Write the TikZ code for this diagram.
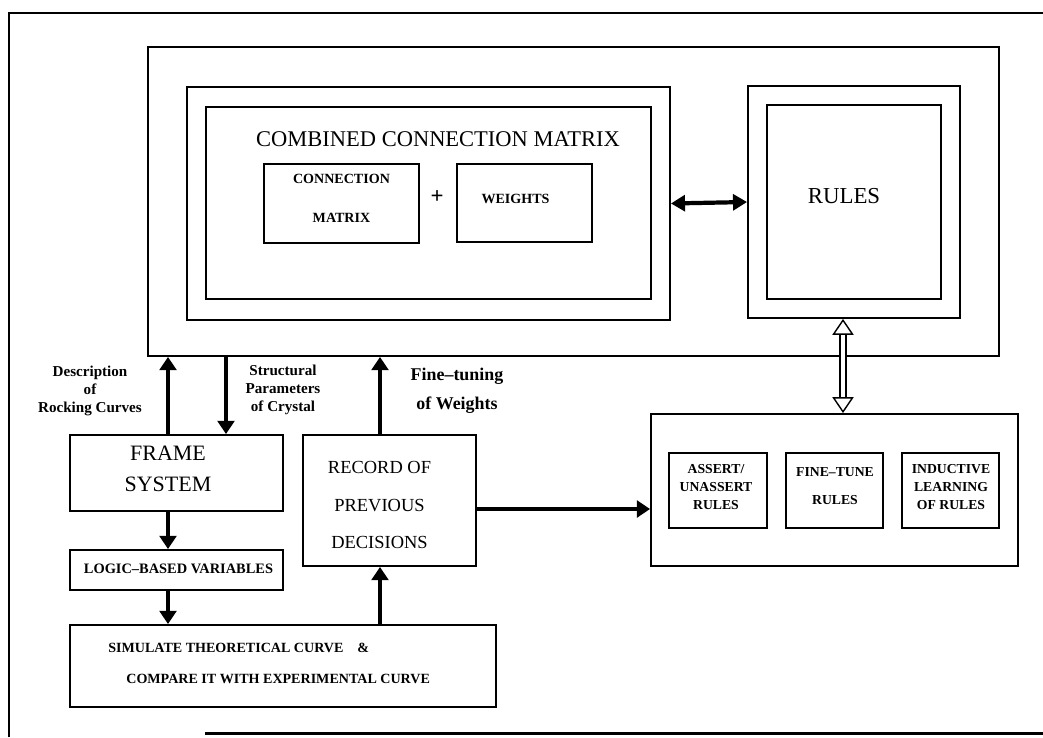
\documentclass[tikz,border=0pt]{standalone}
\usepackage{fontspec}
\setmainfont{Liberation Serif}
\usetikzlibrary{arrows.meta}

\begin{document}
\begin{tikzpicture}[
  x=0.02cm, y=-0.02cm,
  box/.style={draw, line width=1.1pt, inner sep=0pt},
  lbl/.style={align=center, font=\fontsize{8.6}{10.3}\selectfont\bfseries},
  arr/.style={line width=2.8pt, -{Triangle[length=7.5pt, width=9.5pt]}},
  twoway/.style={line width=2.4pt, {Triangle[length=8pt, width=9pt]}-{Triangle[length=8pt, width=9pt]}},
  hollow/.style={double=white, double distance=2.6pt, line width=0.8pt,
    {Triangle[open, length=9pt, width=12pt]}-{Triangle[open, length=9pt, width=12pt]}}
]
  \useasboundingbox (0,0) rectangle (1043,737);

  % frame round the figure
  \draw[line width=1.7pt] (9,737) -- (9,13) -- (1043,13);
  \draw[line width=1.7pt] (205,733) -- (1043,733);

  % knowledge base
  \node[box, minimum width=17.02cm, minimum height=6.18cm] (base) at (573.5,201.5) {};
  \node[box, minimum width=9.66cm, minimum height=4.66cm] (ccmout) at (428.5,203.5) {};
  \node[box, minimum width=8.90cm, minimum height=3.84cm] (ccmin) at (428.5,203) {};
  \node[font=\fontsize{12.8}{14}\selectfont] (ccmtxt) at (438,139) {COMBINED CONNECTION MATRIX};
  \node[box, minimum width=3.10cm, minimum height=1.58cm] (conn) at (341.5,203.5) {};
  \node[lbl, font=\fontsize{8}{22}\selectfont\bfseries] (conntxt) at (341.5,198.5) {CONNECTION\\MATRIX};
  \node[font=\fontsize{13}{15}\selectfont\bfseries] (plus) at (437,197) {+};
  \node[box, minimum width=2.70cm, minimum height=1.56cm] (wts) at (524.5,203) {};
  \node[lbl, font=\fontsize{8}{10}\selectfont\bfseries] (wtstxt) at (515.5,199) {WEIGHTS};
  \node[box, minimum width=4.24cm, minimum height=4.64cm] (rulesout) at (854,202) {};
  \node[box, minimum width=3.48cm, minimum height=3.88cm] (rulesin) at (854,202) {};
  \node[font=\fontsize{13}{15}\selectfont] (rulestxt) at (844,196) {RULES};

  % learning of rules
  \node[box, minimum width=7.34cm, minimum height=3.04cm] (learn) at (834.5,490) {};
  \node[box, minimum width=1.96cm, minimum height=1.50cm] (assert) at (718,490.5) {};
  \node[lbl, font=\fontsize{7.8}{10.5}\selectfont\bfseries] (asserttxt) at (716,487) {ASSERT/\\UNASSERT\\RULES};
  \node[box, minimum width=1.94cm, minimum height=1.50cm] (fine) at (834.5,490.5) {};
  \node[lbl, font=\fontsize{7.8}{16}\selectfont\bfseries] (finetxt) at (835,486) {FINE--TUNE\\RULES};
  \node[box, minimum width=1.94cm, minimum height=1.50cm] (induct) at (950.5,490.5) {};
  \node[lbl, font=\fontsize{7.8}{10.5}\selectfont\bfseries] (inducttxt) at (951,487) {INDUCTIVE\\LEARNING\\OF RULES};

  % left column
  \node[box, minimum width=4.26cm, minimum height=1.52cm] (frame) at (176.5,473) {};
  \node[align=center, font=\fontsize{12.5}{17.6}\selectfont] (frametxt) at (168,468.5) {FRAME\\SYSTEM};
  \node[box, minimum width=4.26cm, minimum height=0.80cm] (logic) at (176.5,570) {};
  \node[lbl, font=\fontsize{8.2}{10}\selectfont\bfseries] (logictxt) at (178.5,569) {LOGIC--BASED VARIABLES};
  \node[box, minimum width=8.52cm, minimum height=1.64cm] (sim) at (283,666) {};
  \node[lbl, anchor=west, inner sep=0pt, font=\fontsize{8}{10}\selectfont\bfseries] (simtxt) at (108,648) {SIMULATE THEORETICAL CURVE\quad\&};
  \node[lbl, anchor=west, inner sep=0pt, font=\fontsize{8}{10}\selectfont\bfseries] (cmptxt) at (126,679) {COMPARE IT WITH EXPERIMENTAL CURVE};
  \node[box, minimum width=3.46cm, minimum height=2.62cm] (record) at (389.5,500.5) {};
  \node[align=center, font=\fontsize{10.5}{21.5}\selectfont] (recordtxt) at (379.5,505) {RECORD OF\\PREVIOUS\\DECISIONS};

  % labels on the arrows
  \node[lbl] (desc) at (90,391) {Description\\of\\Rocking Curves};
  \node[lbl] (struct) at (283,390) {Structural\\Parameters\\of Crystal};
  \node[lbl, font=\fontsize{10.2}{16.4}\selectfont\bfseries] (tune) at (457,390.5) {Fine--tuning\\of Weights};

  % connectors
  \draw[twoway] (ccmout.east) -- (rulesout.west);
  \draw[hollow] ([xshift=-0.22cm]rulesout.south) -- ([xshift=-0.22cm]rulesout.south |- learn.north);
  \draw[arr] ([xshift=-0.17cm]frame.north) -- ([xshift=-0.17cm]frame.north |- base.south);
  \draw[arr] ([xshift=0.99cm]frame.north |- base.south) -- ([xshift=0.99cm]frame.north);
  \draw[arr] ([xshift=-0.19cm]record.north) -- ([xshift=-0.19cm]record.north |- base.south);
  \draw[arr] ([xshift=-0.17cm]frame.south) -- ([xshift=-0.17cm]frame.south |- logic.north);
  \draw[arr] ([xshift=-0.17cm]logic.south) -- ([xshift=-0.17cm]logic.south |- sim.north);
  \draw[arr] ([xshift=-0.19cm]record.south |- sim.north) -- ([xshift=-0.19cm]record.south);
  \draw[arr] ([yshift=-0.17cm]record.east) -- ([yshift=-0.17cm]record.east -| learn.west);
\end{tikzpicture}
\end{document}
